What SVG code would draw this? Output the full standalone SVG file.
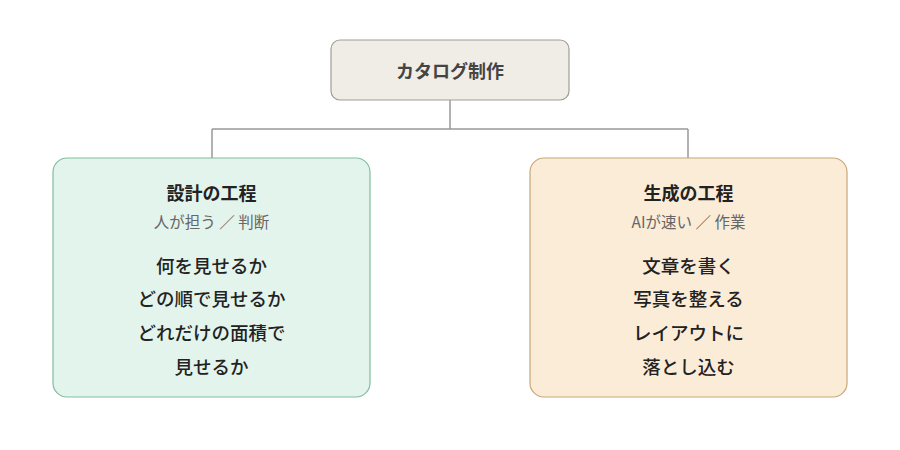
<svg xmlns="http://www.w3.org/2000/svg" width="900" height="450" viewBox="0 0 900 450">
<style>
text{font-family:"Noto Sans CJK JP","Noto Sans",sans-serif;text-anchor:middle;dominant-baseline:central}
.title{font-size:18px;font-weight:700;fill:#222}
.sub{font-size:15.5px;fill:#666}
.item{font-size:18.5px;font-weight:500;fill:#222}
.conn{stroke:#999;stroke-width:1.5;fill:none}
</style>
<rect width="900" height="450" fill="#ffffff"/>
<g id="connectors">
<path class="conn" d="M450 100V129M212 129H688M212 129V158M688 129V158"/>
</g>
<g id="root">
<rect x="331" y="40" width="238" height="60" rx="9" fill="#f0ede6" stroke="#a09d98" stroke-width="1.2"/>
<text x="450" y="70" style="font-size:18px;font-weight:700;fill:#444">カタログ制作</text>
</g>
<g id="design">
<rect x="53" y="158" width="317" height="239" rx="14" fill="#e3f4ec" stroke="#7fbf9f" stroke-width="1.2"/>
<text class="title" x="211.5" y="192">設計の工程</text>
<text class="sub" x="211.5" y="221">人が担う ／ 判断</text>
<text class="item" x="211.5" y="265">何を見せるか</text>
<text class="item" x="211.5" y="298">どの順で見せるか</text>
<text class="item" x="211.5" y="332">どれだけの面積で</text>
<text class="item" x="211.5" y="366">見せるか</text>
</g>
<g id="generate">
<rect x="530" y="158" width="317" height="239" rx="14" fill="#fbecd8" stroke="#c9a679" stroke-width="1.2"/>
<text class="title" x="688.5" y="192">生成の工程</text>
<text class="sub" x="688.5" y="221">AIが速い ／ 作業</text>
<text class="item" x="688.5" y="265">文章を書く</text>
<text class="item" x="688.5" y="298">写真を整える</text>
<text class="item" x="688.5" y="332">レイアウトに</text>
<text class="item" x="688.5" y="366">落とし込む</text>
</g>
</svg>
